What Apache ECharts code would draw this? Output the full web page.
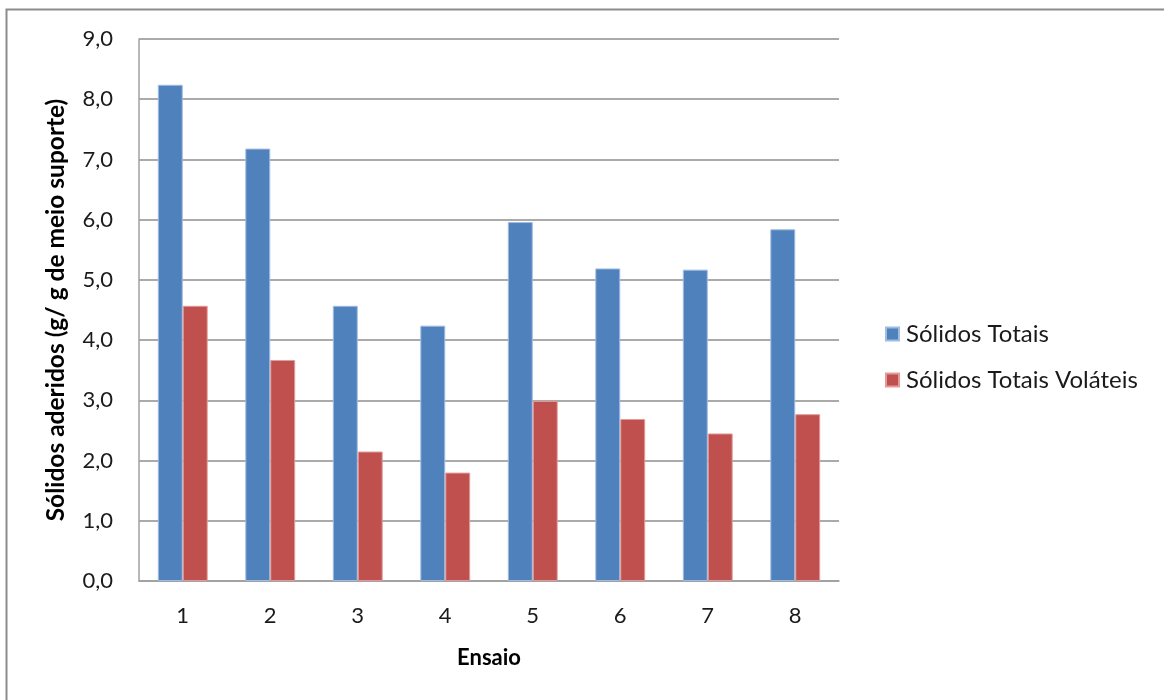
<!DOCTYPE html>
<html>
<head>
<meta charset="utf-8">
<script src="https://cdn.jsdelivr.net/npm/echarts@6/dist/echarts.min.js"></script>
<style>
  html, body { margin: 0; padding: 0; background: #fff; }
  #chart { width: 1164px; height: 700px; }
</style>
</head>
<body>
<div id="chart"></div>
<script>
// Ensaios (trials) on the x axis
const ensaios = ['1', '2', '3', '4', '5', '6', '7', '8'];
// Sólidos aderidos, g / g de meio suporte
const solidosTotais = [8.24, 7.18, 4.57, 4.24, 5.96, 5.19, 5.17, 5.84];
const solidosVolateis = [4.57, 3.67, 2.15, 1.80, 2.99, 2.69, 2.45, 2.77];
const seriesNames = ['Sólidos Totais', 'Sólidos Totais Voláteis'];

const FONT = 'Lato, "Open Sans", sans-serif';
const chart = echarts.init(document.getElementById('chart'));

chart.setOption({
  animation: false,
  backgroundColor: '#fff',
  graphic: [{
    type: 'rect',
    shape: { x: 6.5, y: 9.5, width: 1300, height: 800 },
    style: { fill: 'none', stroke: '#8c8c8c', lineWidth: 2 },
    silent: true
  }],
  grid: { left: 139, top: 39, width: 700, height: 542, containLabel: false },
  legend: {
    orient: 'vertical',
    left: 880,
    top: 317,
    itemWidth: 13,
    itemHeight: 13,
    itemGap: 22,
    icon: 'rect',
    textStyle: { fontFamily: FONT, fontSize: 24, color: '#1a1a1a', padding: [0, 0, 0, 2] },
    data: seriesNames
  },
  xAxis: {
    type: 'category',
    data: ensaios,
    name: 'Ensaio',
    nameLocation: 'middle',
    nameGap: 66,
    nameTextStyle: { fontFamily: FONT, fontSize: 22, fontWeight: 'bold', color: '#000' },
    axisLine: { lineStyle: { color: '#a0a0a0', width: 1.5 } },
    axisTick: { show: false },
    axisLabel: { fontFamily: FONT, fontSize: 22, color: '#1a1a1a', margin: 24 }
  },
  yAxis: {
    type: 'value',
    min: 0,
    max: 9,
    interval: 1,
    name: 'Sólidos aderidos (g/ g de meio suporte)',
    nameLocation: 'middle',
    nameGap: 70,
    nameRotate: 90,
    nameTextStyle: { fontFamily: FONT, fontSize: 24.5, fontWeight: 'bold', color: '#000' },
    axisLine: { show: true, lineStyle: { color: '#a0a0a0', width: 1.5 } },
    axisTick: { show: false },
    splitLine: { lineStyle: { color: '#8e8e8e', width: 1.5 } },
    axisLabel: {
      fontFamily: FONT, fontSize: 22, color: '#1a1a1a', margin: 26,
      formatter: v => v.toFixed(1).replace('.', ',')
    }
  },
  series: [
    {
      name: seriesNames[0],
      type: 'bar',
      data: solidosTotais,
      barGap: '0%',
      barCategoryGap: '43%',
      itemStyle: { color: '#4f81bd', borderColor: '#9fbde0', borderWidth: 1 }
    },
    {
      name: seriesNames[1],
      type: 'bar',
      data: solidosVolateis,
      itemStyle: { color: '#c0504d', borderColor: '#e39a98', borderWidth: 1 }
    }
  ]
});
</script>
</body>
</html>
